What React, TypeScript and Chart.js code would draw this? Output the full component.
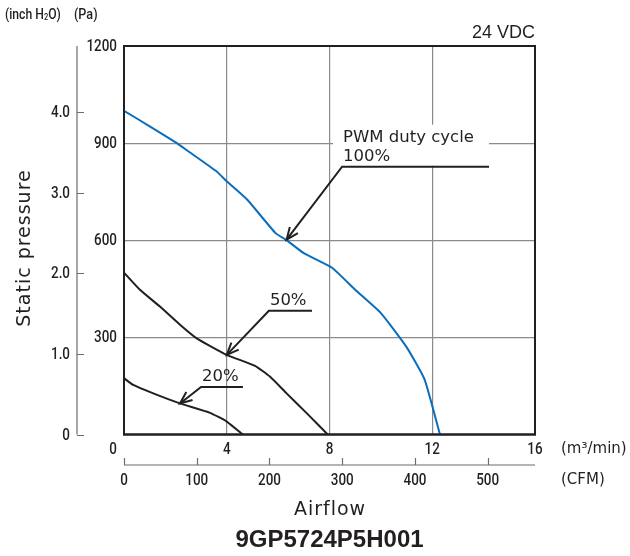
import React, { useEffect, useRef } from 'react';
import { Chart, registerables } from 'chart.js';

Chart.register(...registerables);

// ---- axis ticks ----
const FLOW_TICKS = [0, 4, 8, 12, 16]; // m3/min
const PA_TICKS = [300, 600, 900, 1200]; // Pa
const INCH_TICKS = [0, 1, 2, 3, 4]; // inch H2O
const INCH_LABELS = ['0', '1.0', '2.0', '3.0', '4.0'];
const CFM_TICKS = [0, 100, 200, 300, 400, 500];
const PA_PER_INCH = 249.089;
const M3MIN_PER_CFM = 0.0283168;

// ---- series (airflow m3/min, static pressure Pa) ----
const flow100 = [0, 1, 2, 2.5, 3.6, 4, 4.8, 5.9, 6.3, 7, 8.1, 9, 10, 11, 11.7, 12.3];
const pres100 = [1000, 952, 903, 875, 813, 782, 725, 622, 602, 560, 515, 447, 375, 270, 170, 0];
const flow50 = [0, 0.62, 1.4, 2.18, 2.83, 4, 5.1, 5.68, 6.33, 7.11, 7.93];
const pres50 = [500, 447, 395, 339, 297, 246, 212, 179, 127, 66, 0];
const flow20 = [0, 0.36, 1.14, 2.18, 3.35, 4, 4.62];
const pres20 = [174, 153, 127, 96, 67, 40, 0];

// ---- callouts (data coordinates) ----
const CALLOUT_LABELS = [['PWM duty cycle', '100%'], ['50%'], ['20%']];
const CALLOUT_LINE_START = [8.49, 5.64, 3.0];
const CALLOUT_LINE_END = [14.21, 7.32, 4.63];
const CALLOUT_LINE_PA = [827, 382, 147];
const CALLOUT_TIP_FLOW = [6.33, 4.0, 2.18];
const CALLOUT_TIP_PA = [602, 246, 96];

const BLUE = '#0a6ebd';
const INK = '#231f20';
const GRID = '#8a8a8a';
const SANS = '"Liberation Sans", Arial, sans-serif';
const COND = 'Roboto, "Liberation Sans", sans-serif';
const WIDE = '"DejaVu Sans", sans-serif';
const NARROW_SCALE = 0.84;

function narrow(ctx: any, text: string, x: number, y: number, size: number, align: string) {
  ctx.save();
  ctx.translate(x, y);
  ctx.scale(NARROW_SCALE, 1);
  ctx.font = `500 ${size}px ${COND}`;
  ctx.textAlign = align;
  ctx.fillText(text, 0, 0);
  const w = ctx.measureText(text).width * NARROW_SCALE;
  ctx.restore();
  return w;
}

const decor = {
  id: 'decor',
  beforeDatasetsDraw(chart: any) {
    const { ctx, chartArea: a } = chart;
    ctx.save();
    ctx.strokeStyle = INK;
    ctx.lineWidth = 2;
    ctx.strokeRect(a.left, a.top, a.right - a.left, a.bottom - a.top);
    ctx.restore();
  },
  afterDraw(chart: any) {
    const { ctx, chartArea: a } = chart;
    const xs = chart.scales.x;
    const ys = chart.scales.y;
    ctx.save();
    ctx.fillStyle = INK;
    ctx.strokeStyle = INK;

    ctx.lineWidth = 2;
    ctx.strokeRect(a.left, a.top, a.right - a.left, a.bottom - a.top);

    ctx.textBaseline = 'middle';
    // Pa labels
    PA_TICKS.forEach((v) => {
      narrow(ctx, String(v), a.left - 7, ys.getPixelForValue(v) + 1, 16, 'right');
    });

    // inch H2O axis
    const ix = a.left - 47;
    ctx.strokeStyle = '#6d6d6d';
    ctx.lineWidth = 1.2;
    ctx.beginPath();
    ctx.moveTo(ix, a.top);
    ctx.lineTo(ix, a.bottom);
    INCH_TICKS.forEach((v) => {
      const y = Math.round(ys.getPixelForValue(v * PA_PER_INCH)) + 0.5;
      ctx.moveTo(ix, y);
      ctx.lineTo(ix + 7, y);
    });
    ctx.stroke();
    INCH_TICKS.forEach((v, i) => {
      narrow(ctx, INCH_LABELS[i], ix - 7, ys.getPixelForValue(v * PA_PER_INCH) + 1, 16, 'right');
    });

    // m3/min labels
    FLOW_TICKS.forEach((v) => {
      const x = xs.getPixelForValue(v);
      if (v === FLOW_TICKS[0]) {
        narrow(ctx, String(v), x - 7, a.bottom + 15, 16, 'right');
      } else {
        narrow(ctx, String(v), x, a.bottom + 15, 16, 'center');
      }
    });

    // CFM axis
    const cy = a.bottom + 30.5;
    ctx.beginPath();
    ctx.moveTo(a.left, cy);
    ctx.lineTo(a.right, cy);
    CFM_TICKS.forEach((v) => {
      const x = Math.round(xs.getPixelForValue(v * M3MIN_PER_CFM)) + 0.5;
      ctx.moveTo(x, cy);
      ctx.lineTo(x, cy - 7);
    });
    ctx.stroke();
    CFM_TICKS.forEach((v) => {
      narrow(ctx, String(v), xs.getPixelForValue(v * M3MIN_PER_CFM), a.bottom + 46, 16, 'center');
    });

    // unit labels
    ctx.textAlign = 'left';
    ctx.font = `15px ${WIDE}`;
    ctx.fillText('(m³/min)', a.right + 26, a.bottom + 15);
    ctx.fillText('(CFM)', a.right + 26, a.bottom + 46);

    let tx = 5;
    const ty = 15;
    tx += narrow(ctx, '(inch H', tx, ty, 14.5, 'left');
    tx += narrow(ctx, '2', tx, ty + 3, 9, 'left');
    narrow(ctx, 'O)', tx, ty, 14.5, 'left');
    narrow(ctx, '(Pa)', 74, ty, 15, 'left');

    // 24 VDC
    ctx.textAlign = 'right';
    ctx.font = `18px ${SANS}`;
    ctx.fillText('24 VDC', a.right, 33);

    // axis titles
    ctx.textAlign = 'center';
    ctx.font = `19px ${WIDE}`;
    (ctx as any).letterSpacing = '1px';
    ctx.fillText('Airflow', (a.left + a.right) / 2 + 0.5, a.bottom + 76);
    ctx.save();
    ctx.translate(25, 248);
    ctx.rotate(-Math.PI / 2);
    ctx.fillText('Static pressure', 0, 0);
    ctx.restore();
    (ctx as any).letterSpacing = '0px';

    ctx.font = `bold 24px ${SANS}`;
    ctx.fillText('9GP5724P5H001', (a.left + a.right) / 2, a.bottom + 106);

    // callouts
    ctx.font = `16.5px ${WIDE}`;
    ctx.textAlign = 'left';
    ctx.textBaseline = 'alphabetic';
    ctx.lineWidth = 2;
    ctx.strokeStyle = INK;
    CALLOUT_LABELS.forEach((labels, i) => {
      const x0 = xs.getPixelForValue(CALLOUT_LINE_START[i]);
      const x1 = xs.getPixelForValue(CALLOUT_LINE_END[i]);
      const y0 = ys.getPixelForValue(CALLOUT_LINE_PA[i]);
      const tx2 = xs.getPixelForValue(CALLOUT_TIP_FLOW[i]);
      const ty2 = ys.getPixelForValue(CALLOUT_TIP_PA[i]);
      if (labels.length > 1) {
        ctx.fillStyle = '#fff';
        ctx.fillRect(x0 - 9, y0 - 42, x1 - x0 + 9, 41);
        ctx.fillStyle = INK;
      }
      labels.forEach((s, k) => {
        ctx.fillText(s, x0 + 1, y0 - 6 - (labels.length - 1 - k) * 19);
      });
      ctx.beginPath();
      ctx.moveTo(x1, y0);
      ctx.lineTo(x0, y0);
      ctx.lineTo(tx2, ty2);
      ctx.stroke();
      const ang = Math.atan2(y0 - ty2, x0 - tx2);
      const L = 13;
      const sp = 0.4;
      ctx.beginPath();
      ctx.moveTo(tx2 + L * Math.cos(ang + sp), ty2 + L * Math.sin(ang + sp));
      ctx.lineTo(tx2, ty2);
      ctx.lineTo(tx2 + L * Math.cos(ang - sp), ty2 + L * Math.sin(ang - sp));
      ctx.stroke();
    });
    ctx.restore();
  },
};

export default function App() {
  const ref = useRef<HTMLCanvasElement>(null);
  useEffect(() => {
    const canvas = ref.current;
    if (!canvas) return;
    const mk = (fx: number[], py: number[], color: string) => ({
      data: fx.map((x, i) => ({ x, y: py[i] })),
      borderColor: color,
      borderWidth: 2,
      pointRadius: 0,
      fill: false,
      tension: 0.15,
    });
    const edgeColor = (max: number) => (c: any) =>
      c.tick && (c.tick.value === 0 || c.tick.value === max) ? 'rgba(0,0,0,0)' : GRID;
    const chart = new Chart(canvas, {
      type: 'line',
      data: {
        datasets: [mk(flow100, pres100, BLUE), mk(flow50, pres50, INK), mk(flow20, pres20, INK)],
      },
      options: {
        responsive: false,
        animation: false,
        layout: { padding: { left: 124, top: 46, right: 95, bottom: 121.5 } },
        plugins: { legend: { display: false }, tooltip: { enabled: false } },
        scales: {
          x: {
            type: 'linear',
            min: 0,
            max: 16,
            ticks: { display: false, stepSize: 4 },
            grid: { drawTicks: false, color: edgeColor(16), lineWidth: 1.2 },
            border: { display: false },
            afterFit: (s: any) => {
              s.height = 0;
            },
          },
          y: {
            type: 'linear',
            min: 0,
            max: 1200,
            ticks: { display: false, stepSize: 300 },
            grid: { drawTicks: false, color: edgeColor(1200), lineWidth: 1.2 },
            border: { display: false },
            afterFit: (s: any) => {
              s.width = 0;
            },
          },
        },
      },
      plugins: [decor],
    } as any);
    return () => chart.destroy();
  }, []);
  return (
    <div style={{ position: 'absolute', left: 0, top: 0, width: 630, height: 556, background: '#fff' }}>
      <canvas ref={ref} width={630} height={556} style={{ width: 630, height: 556, display: 'block' }} />
    </div>
  );
}
